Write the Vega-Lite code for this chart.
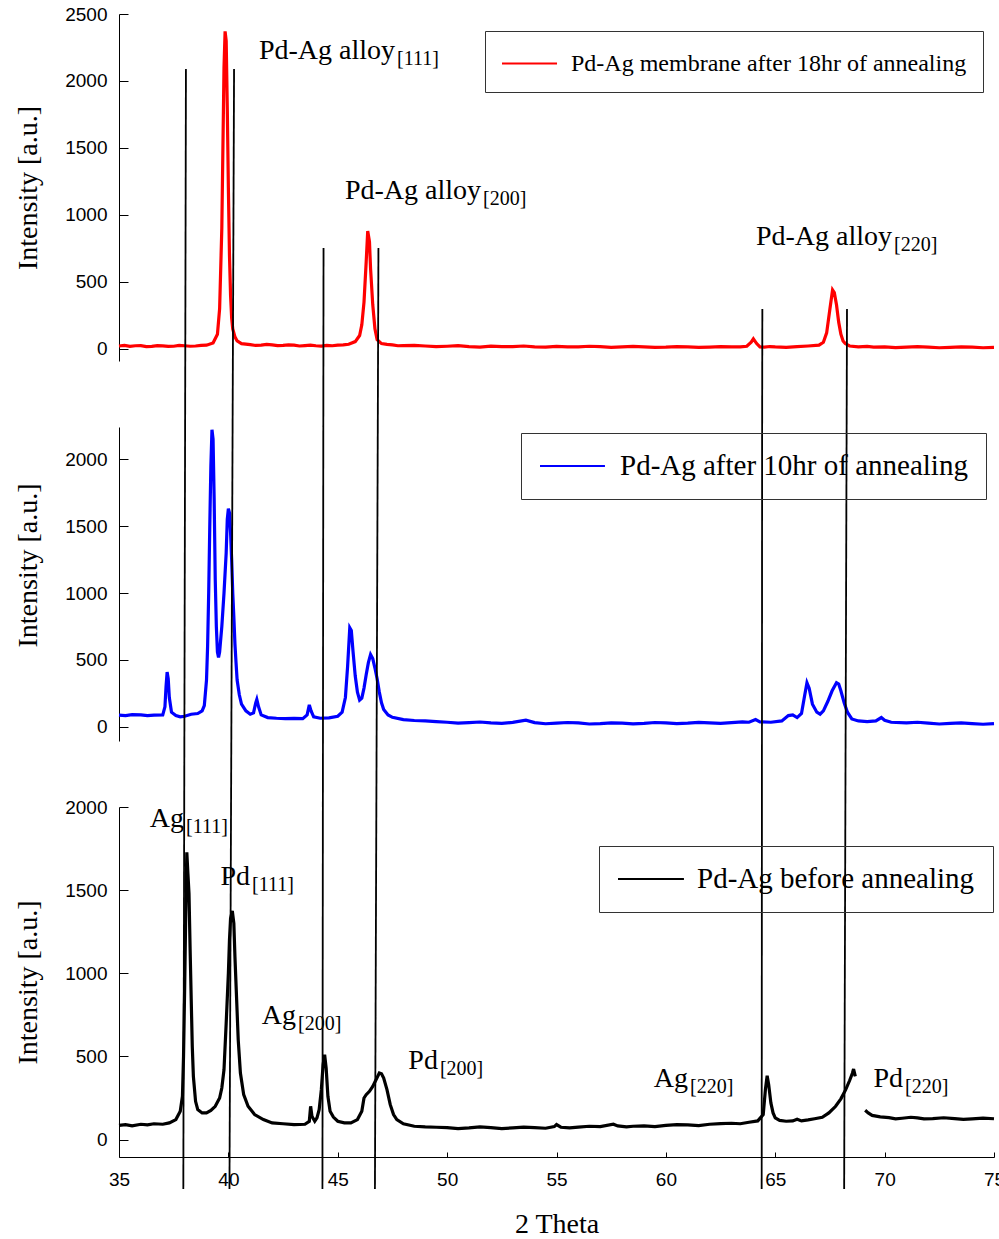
{
  "$schema": "https://vega.github.io/schema/vega-lite/v6.json",
  "background": "white",
  "padding": {"left": 14, "top": 5, "right": 0, "bottom": 0},
  "bounds": "flush",
  "spacing": 66,
  "config": {
    "view": {"stroke": null},
    "axis": {"grid": false, "labelFont": "Liberation Sans", "labelFontSize": 19, "labelColor": "#000", "titleFont": "Liberation Serif", "titleFontSize": 28, "titleFontWeight": "normal", "titleColor": "#000", "domainColor": "#000", "tickColor": "#000", "domainWidth": 1, "tickWidth": 1, "format": "d"},
    "legend": {"orient": "none", "symbolStrokeWidth": 2, "labelFont": "Liberation Serif", "labelColor": "#000", "strokeColor": "#333", "labelLimit": 0}
  },
  "datasets": {
    "red": [
      {"x":35,"y":22},{"x":35.25,"y":27},{"x":35.5,"y":20},{"x":35.75,"y":24},{"x":36,"y":25},{"x":36.25,"y":18},{"x":36.5,"y":19},{"x":36.75,"y":25},{"x":37,"y":23},{"x":37.25,"y":19},{"x":37.5,"y":20},{"x":37.75,"y":26},{"x":38,"y":24},{"x":38.25,"y":20},{"x":38.5,"y":22},{"x":38.75,"y":27},{"x":39,"y":28},{"x":39.3,"y":45},{"x":39.5,"y":110},{"x":39.6,"y":300},{"x":39.7,"y":900},{"x":39.75,"y":1500},{"x":39.8,"y":2100},{"x":39.85,"y":2370},{"x":39.9,"y":2300},{"x":39.95,"y":1800},{"x":40,"y":1200},{"x":40.05,"y":700},{"x":40.1,"y":400},{"x":40.15,"y":230},{"x":40.2,"y":150},{"x":40.3,"y":90},{"x":40.4,"y":60},{"x":40.6,"y":40},{"x":41,"y":32},{"x":41.25,"y":26},{"x":41.5,"y":29},{"x":41.75,"y":34},{"x":42,"y":30},{"x":42.25,"y":25},{"x":42.5,"y":27},{"x":42.75,"y":31},{"x":43,"y":28},{"x":43.25,"y":22},{"x":43.5,"y":25},{"x":43.75,"y":28},{"x":44,"y":24},{"x":44.25,"y":21},{"x":44.5,"y":26},{"x":44.75,"y":24},{"x":45,"y":28},{"x":45.25,"y":30},{"x":45.5,"y":35},{"x":45.8,"y":55},{"x":46,"y":100},{"x":46.1,"y":180},{"x":46.2,"y":350},{"x":46.3,"y":650},{"x":46.37,"y":880},{"x":46.45,"y":800},{"x":46.5,"y":600},{"x":46.6,"y":330},{"x":46.7,"y":150},{"x":46.8,"y":70},{"x":47,"y":40},{"x":47.25,"y":34},{"x":47.5,"y":30},{"x":47.75,"y":24},{"x":48,"y":25},{"x":48.5,"y":27},{"x":49,"y":22},{"x":49.5,"y":17},{"x":50,"y":20},{"x":50.5,"y":24},{"x":51,"y":18},{"x":51.5,"y":14},{"x":52,"y":21},{"x":52.5,"y":17},{"x":53,"y":17},{"x":53.5,"y":22},{"x":54,"y":16},{"x":54.5,"y":13},{"x":55,"y":19},{"x":55.5,"y":15},{"x":56,"y":15},{"x":56.5,"y":20},{"x":57,"y":17},{"x":57.5,"y":12},{"x":58,"y":15},{"x":58.5,"y":19},{"x":59,"y":16},{"x":59.5,"y":12},{"x":60,"y":14},{"x":60.5,"y":18},{"x":61,"y":16},{"x":61.5,"y":11},{"x":62,"y":14},{"x":62.5,"y":18},{"x":63,"y":15},{"x":63.4,"y":16},{"x":63.7,"y":20},{"x":63.9,"y":50},{"x":64,"y":75},{"x":64.15,"y":40},{"x":64.3,"y":15},{"x":64.5,"y":14},{"x":64.75,"y":18},{"x":65,"y":15},{"x":65.5,"y":12},{"x":66,"y":17},{"x":66.5,"y":22},{"x":67,"y":28},{"x":67.2,"y":50},{"x":67.35,"y":120},{"x":67.5,"y":300},{"x":67.62,"y":440},{"x":67.7,"y":420},{"x":67.8,"y":330},{"x":67.9,"y":200},{"x":68,"y":110},{"x":68.1,"y":60},{"x":68.2,"y":40},{"x":68.4,"y":22},{"x":68.8,"y":16},{"x":69.2,"y":19},{"x":69.5,"y":14},{"x":70,"y":15},{"x":70.5,"y":10},{"x":71,"y":13},{"x":71.5,"y":17},{"x":72,"y":14},{"x":72.5,"y":9},{"x":73,"y":12},{"x":73.5,"y":15},{"x":74,"y":13},{"x":74.5,"y":9},{"x":75,"y":12}
    ],
    "blue": [
      {"x":35,"y":88},{"x":35.3,"y":85},{"x":35.6,"y":92},{"x":36,"y":90},{"x":36.3,"y":84},{"x":36.6,"y":88},{"x":37,"y":90},{"x":37.1,"y":150},{"x":37.15,"y":300},{"x":37.2,"y":410},{"x":37.25,"y":360},{"x":37.3,"y":220},{"x":37.4,"y":110},{"x":37.6,"y":85},{"x":37.8,"y":75},{"x":38,"y":80},{"x":38.3,"y":95},{"x":38.6,"y":100},{"x":38.8,"y":120},{"x":38.9,"y":160},{"x":39,"y":350},{"x":39.05,"y":600},{"x":39.1,"y":1000},{"x":39.15,"y":1500},{"x":39.2,"y":1950},{"x":39.25,"y":2220},{"x":39.3,"y":2150},{"x":39.35,"y":1700},{"x":39.4,"y":1100},{"x":39.45,"y":750},{"x":39.5,"y":560},{"x":39.55,"y":520},{"x":39.6,"y":560},{"x":39.7,"y":750},{"x":39.8,"y":1000},{"x":39.9,"y":1300},{"x":39.95,"y":1550},{"x":40,"y":1630},{"x":40.05,"y":1600},{"x":40.1,"y":1450},{"x":40.15,"y":1250},{"x":40.2,"y":1000},{"x":40.25,"y":820},{"x":40.3,"y":620},{"x":40.35,"y":480},{"x":40.4,"y":350},{"x":40.5,"y":240},{"x":40.6,"y":170},{"x":40.8,"y":120},{"x":41,"y":95},{"x":41.15,"y":105},{"x":41.25,"y":180},{"x":41.3,"y":205},{"x":41.38,"y":150},{"x":41.5,"y":90},{"x":41.8,"y":70},{"x":42.2,"y":65},{"x":42.6,"y":62},{"x":43,"y":64},{"x":43.4,"y":62},{"x":43.6,"y":90},{"x":43.7,"y":165},{"x":43.78,"y":120},{"x":43.9,"y":75},{"x":44.2,"y":65},{"x":44.6,"y":68},{"x":45,"y":80},{"x":45.2,"y":110},{"x":45.35,"y":220},{"x":45.45,"y":450},{"x":45.55,"y":740},{"x":45.62,"y":720},{"x":45.7,"y":560},{"x":45.8,"y":380},{"x":45.9,"y":260},{"x":46,"y":200},{"x":46.1,"y":215},{"x":46.2,"y":290},{"x":46.3,"y":390},{"x":46.4,"y":480},{"x":46.5,"y":540},{"x":46.6,"y":510},{"x":46.7,"y":440},{"x":46.8,"y":360},{"x":46.9,"y":260},{"x":47,"y":180},{"x":47.1,"y":130},{"x":47.3,"y":90},{"x":47.5,"y":72},{"x":48,"y":55},{"x":48.5,"y":48},{"x":49,"y":45},{"x":49.5,"y":40},{"x":50,"y":35},{"x":50.5,"y":28},{"x":51,"y":32},{"x":51.5,"y":37},{"x":52,"y":30},{"x":52.5,"y":26},{"x":53,"y":34},{"x":53.6,"y":50},{"x":54,"y":32},{"x":54.5,"y":24},{"x":55,"y":28},{"x":55.5,"y":33},{"x":56,"y":30},{"x":56.5,"y":22},{"x":57,"y":25},{"x":57.5,"y":31},{"x":58,"y":28},{"x":58.5,"y":23},{"x":59,"y":27},{"x":59.5,"y":33},{"x":60,"y":30},{"x":60.5,"y":25},{"x":61,"y":28},{"x":61.5,"y":34},{"x":62,"y":30},{"x":62.5,"y":27},{"x":63,"y":32},{"x":63.5,"y":38},{"x":63.8,"y":35},{"x":64.1,"y":55},{"x":64.3,"y":38},{"x":64.8,"y":35},{"x":65.3,"y":45},{"x":65.6,"y":85},{"x":65.8,"y":90},{"x":66,"y":70},{"x":66.2,"y":100},{"x":66.35,"y":240},{"x":66.45,"y":330},{"x":66.55,"y":290},{"x":66.7,"y":170},{"x":66.9,"y":110},{"x":67.05,"y":95},{"x":67.2,"y":120},{"x":67.4,"y":190},{"x":67.6,"y":270},{"x":67.8,"y":330},{"x":67.9,"y":320},{"x":68,"y":270},{"x":68.15,"y":180},{"x":68.3,"y":110},{"x":68.5,"y":60},{"x":68.8,"y":45},{"x":69.2,"y":40},{"x":69.6,"y":45},{"x":69.85,"y":70},{"x":70,"y":50},{"x":70.3,"y":35},{"x":71,"y":30},{"x":71.5,"y":35},{"x":72,"y":28},{"x":72.5,"y":22},{"x":73,"y":26},{"x":73.5,"y":30},{"x":74,"y":25},{"x":74.5,"y":20},{"x":75,"y":25}
    ],
    "black": [
      {"s":1,"x":35,"y":85},{"s":1,"x":35.3,"y":90},{"s":1,"x":35.6,"y":82},{"s":1,"x":36,"y":92},{"s":1,"x":36.3,"y":88},{"s":1,"x":36.6,"y":95},{"s":1,"x":37,"y":92},{"s":1,"x":37.3,"y":100},{"s":1,"x":37.6,"y":120},{"s":1,"x":37.8,"y":170},{"s":1,"x":37.9,"y":260},{"s":1,"x":37.95,"y":500},{"s":1,"x":38,"y":900},{"s":1,"x":38.05,"y":1350},{"s":1,"x":38.1,"y":1727},{"s":1,"x":38.15,"y":1600},{"s":1,"x":38.2,"y":1480},{"s":1,"x":38.25,"y":1150},{"s":1,"x":38.3,"y":850},{"s":1,"x":38.35,"y":560},{"s":1,"x":38.4,"y":380},{"s":1,"x":38.5,"y":230},{"s":1,"x":38.6,"y":180},{"s":1,"x":38.8,"y":160},{"s":1,"x":39,"y":160},{"s":1,"x":39.2,"y":175},{"s":1,"x":39.4,"y":200},{"s":1,"x":39.6,"y":250},{"s":1,"x":39.7,"y":310},{"s":1,"x":39.8,"y":420},{"s":1,"x":39.9,"y":700},{"s":1,"x":40,"y":1000},{"s":1,"x":40.05,"y":1200},{"s":1,"x":40.1,"y":1330},{"s":1,"x":40.18,"y":1375},{"s":1,"x":40.25,"y":1300},{"s":1,"x":40.3,"y":1100},{"s":1,"x":40.36,"y":900},{"s":1,"x":40.45,"y":600},{"s":1,"x":40.55,"y":400},{"s":1,"x":40.7,"y":270},{"s":1,"x":40.9,"y":200},{"s":1,"x":41.2,"y":150},{"s":1,"x":41.6,"y":120},{"s":1,"x":42,"y":100},{"s":1,"x":42.5,"y":95},{"s":1,"x":43,"y":90},{"s":1,"x":43.5,"y":92},{"s":1,"x":43.7,"y":110},{"s":1,"x":43.76,"y":200},{"s":1,"x":43.82,"y":140},{"s":1,"x":43.95,"y":110},{"s":1,"x":44.05,"y":130},{"s":1,"x":44.15,"y":180},{"s":1,"x":44.25,"y":300},{"s":1,"x":44.33,"y":450},{"s":1,"x":44.4,"y":510},{"s":1,"x":44.47,"y":430},{"s":1,"x":44.55,"y":260},{"s":1,"x":44.65,"y":170},{"s":1,"x":44.8,"y":135},{"s":1,"x":45,"y":110},{"s":1,"x":45.3,"y":100},{"s":1,"x":45.6,"y":100},{"s":1,"x":45.9,"y":120},{"s":1,"x":46.1,"y":170},{"s":1,"x":46.2,"y":250},{"s":1,"x":46.3,"y":270},{"s":1,"x":46.45,"y":290},{"s":1,"x":46.6,"y":320},{"s":1,"x":46.75,"y":360},{"s":1,"x":46.9,"y":400},{"s":1,"x":47,"y":395},{"s":1,"x":47.1,"y":370},{"s":1,"x":47.25,"y":300},{"s":1,"x":47.4,"y":210},{"s":1,"x":47.55,"y":150},{"s":1,"x":47.7,"y":120},{"s":1,"x":48,"y":95},{"s":1,"x":48.5,"y":80},{"s":1,"x":49,"y":76},{"s":1,"x":49.5,"y":74},{"s":1,"x":50,"y":72},{"s":1,"x":50.5,"y":66},{"s":1,"x":51,"y":70},{"s":1,"x":51.5,"y":76},{"s":1,"x":52,"y":72},{"s":1,"x":52.5,"y":66},{"s":1,"x":53,"y":70},{"s":1,"x":53.5,"y":75},{"s":1,"x":54,"y":72},{"s":1,"x":54.5,"y":68},{"s":1,"x":54.9,"y":78},{"s":1,"x":55,"y":90},{"s":1,"x":55.2,"y":74},{"s":1,"x":55.6,"y":70},{"s":1,"x":56,"y":75},{"s":1,"x":56.5,"y":80},{"s":1,"x":57,"y":78},{"s":1,"x":57.6,"y":92},{"s":1,"x":57.8,"y":82},{"s":1,"x":58.2,"y":76},{"s":1,"x":58.5,"y":80},{"s":1,"x":59,"y":82},{"s":1,"x":59.5,"y":78},{"s":1,"x":60,"y":85},{"s":1,"x":60.5,"y":90},{"s":1,"x":61,"y":88},{"s":1,"x":61.5,"y":84},{"s":1,"x":62,"y":92},{"s":1,"x":62.5,"y":96},{"s":1,"x":63,"y":98},{"s":1,"x":63.4,"y":95},{"s":1,"x":63.8,"y":104},{"s":1,"x":64.2,"y":112},{"s":1,"x":64.45,"y":150},{"s":1,"x":64.55,"y":300},{"s":1,"x":64.63,"y":384},{"s":1,"x":64.7,"y":330},{"s":1,"x":64.8,"y":220},{"s":1,"x":64.9,"y":160},{"s":1,"x":65,"y":130},{"s":1,"x":65.2,"y":115},{"s":1,"x":65.5,"y":110},{"s":1,"x":65.8,"y":112},{"s":1,"x":66,"y":122},{"s":1,"x":66.2,"y":112},{"s":1,"x":66.5,"y":118},{"s":1,"x":66.8,"y":125},{"s":1,"x":67.15,"y":134},{"s":1,"x":67.45,"y":160},{"s":1,"x":67.76,"y":200},{"s":1,"x":68,"y":245},{"s":1,"x":68.22,"y":300},{"s":1,"x":68.4,"y":355},{"s":1,"x":68.53,"y":400},{"s":1,"x":68.58,"y":424},{"s":1,"x":68.66,"y":380},
      {"s":2,"x":69.11,"y":176},{"s":2,"x":69.25,"y":160},{"s":2,"x":69.43,"y":145},{"s":2,"x":69.8,"y":136},{"s":2,"x":70.2,"y":132},{"s":2,"x":70.5,"y":124},{"s":2,"x":70.8,"y":128},{"s":2,"x":71.2,"y":134},{"s":2,"x":71.5,"y":130},{"s":2,"x":71.8,"y":124},{"s":2,"x":72.2,"y":126},{"s":2,"x":72.7,"y":131},{"s":2,"x":73.2,"y":126},{"s":2,"x":73.6,"y":121},{"s":2,"x":74,"y":124},{"s":2,"x":74.5,"y":129},{"s":2,"x":75,"y":125}
    ],
    "guides": [
      {"p":1,"xa":38.06,"xb":38.022,"ya":2090,"yb":-583},
      {"p":1,"xa":40.26,"xb":40.193,"ya":2090,"yb":-583},
      {"p":1,"xa":44.35,"xb":44.34,"ya":753,"yb":-583},
      {"p":1,"xa":46.86,"xb":46.83,"ya":753,"yb":-583},
      {"p":1,"xa":64.41,"xb":64.40,"ya":298,"yb":-583},
      {"p":1,"xa":68.28,"xb":68.263,"ya":298,"yb":-583},
      {"p":2,"xa":38.022,"xb":37.981,"ya":2240,"yb":-598},
      {"p":2,"xa":40.193,"xb":40.122,"ya":2240,"yb":-598},
      {"p":2,"xa":44.34,"xb":44.32,"ya":2240,"yb":-598},
      {"p":2,"xa":46.83,"xb":46.765,"ya":2240,"yb":-598},
      {"p":2,"xa":64.40,"xb":64.39,"ya":2240,"yb":-598},
      {"p":2,"xa":68.263,"xb":68.206,"ya":2240,"yb":-598},
      {"p":3,"xa":37.981,"xb":37.94,"ya":2000,"yb":-297},
      {"p":3,"xa":40.122,"xb":40.05,"ya":2000,"yb":-297},
      {"p":3,"xa":44.32,"xb":44.30,"ya":2000,"yb":-297},
      {"p":3,"xa":46.765,"xb":46.70,"ya":2000,"yb":-297},
      {"p":3,"xa":64.39,"xb":64.38,"ya":2000,"yb":-297},
      {"p":3,"xa":68.206,"xb":68.15,"ya":2000,"yb":-297}
    ],
    "labels": [
      {"p":1,"x":47.62,"y":2164,"m":"Pd-Ag alloy","s":"[111]"},
      {"p":1,"x":51.55,"y":1119,"m":"Pd-Ag alloy","s":"[200]"},
      {"p":1,"x":70.34,"y":776,"m":"Pd-Ag alloy","s":"[220]"},
      {"p":3,"x":37.97,"y":1880,"m":"Ag","s":"[111]"},
      {"p":3,"x":40.99,"y":1531,"m":"Pd","s":"[111]"},
      {"p":3,"x":43.09,"y":695,"m":"Ag","s":"[200]"},
      {"p":3,"x":49.58,"y":424,"m":"Pd","s":"[200]"},
      {"p":3,"x":61.01,"y":316,"m":"Ag","s":"[220]"},
      {"p":3,"x":70.84,"y":316,"m":"Pd","s":"[220]"}
    ]
  },
  "resolve": {"scale": {"color": "independent", "y": "independent"}, "legend": {"color": "independent"}},
  "vconcat": [
    {
      "width": 875, "height": 347,
      "encoding": {
        "x": {"type": "quantitative", "scale": {"domain": [35, 75], "nice": false, "zero": false}, "axis": null},
        "y": {"type": "quantitative", "scale": {"domain": [-90, 2500], "nice": false, "zero": false}, "axis": {"values": [0, 500, 1000, 1500, 2000, 2500], "tickSize": -9, "labelPadding": 21, "title": "Intensity [a.u.]", "titlePadding": 22}}
      },
      "layer": [
        {"data": {"name": "red"}, "mark": {"type": "line", "color": "#ff0000", "strokeWidth": 3.2},
         "encoding": {"x": {"field": "x"}, "y": {"field": "y"},
           "color": {"datum": "Pd-Ag membrane after 18hr of annealing", "scale": {"range": ["#ff0000"]},
             "legend": {"title": null, "legendX": 366, "legendY": 17, "padding": 16, "symbolType": "M-1,0H2.55", "symbolSize": 961, "labelFontSize": 24, "labelOffset": 37}}}},
        {"data": {"name": "guides"}, "transform": [{"filter": "datum.p == 1"}], "mark": {"type": "rule", "color": "#000", "strokeWidth": 1.8, "clip": false},
         "encoding": {"x": {"field": "xa"}, "x2": {"field": "xb"}, "y": {"field": "ya"}, "y2": {"field": "yb"}}},
        {"mark": {"type": "rule", "color": "#666", "strokeWidth": 1.2, "clip": false},
         "encoding": {"x": {"datum": 35}, "x2": {"datum": 75}, "y": {"datum": 2500}}},
        {"mark": {"type": "rule", "color": "#444", "strokeWidth": 1.2, "clip": false},
         "encoding": {"x": {"datum": 75}, "y": {"datum": -90}, "y2": {"datum": 2500}}},
        {"data": {"name": "labels"}, "transform": [{"filter": "datum.p == 1"}], "mark": {"type": "text", "align": "right", "baseline": "alphabetic", "font": "Liberation Serif", "fontSize": 28, "color": "#000"},
         "encoding": {"x": {"field": "x"}, "y": {"field": "y"}, "text": {"field": "m"}}},
        {"data": {"name": "labels"}, "transform": [{"filter": "datum.p == 1"}], "mark": {"type": "text", "align": "left", "baseline": "alphabetic", "dx": 2, "dy": 6, "font": "Liberation Serif", "fontSize": 20, "color": "#000"},
         "encoding": {"x": {"field": "x"}, "y": {"field": "y"}, "text": {"field": "s"}}}
      ]
    },
    {
      "width": 875, "height": 314,
      "encoding": {
        "x": {"type": "quantitative", "scale": {"domain": [35, 75], "nice": false, "zero": false}, "axis": null},
        "y": {"type": "quantitative", "scale": {"domain": [-105, 2240], "nice": false, "zero": false}, "axis": {"values": [0, 500, 1000, 1500, 2000], "tickSize": -9, "labelPadding": 21, "title": "Intensity [a.u.]", "titlePadding": 22, "titleY": 138}}
      },
      "layer": [
        {"data": {"name": "blue"}, "mark": {"type": "line", "color": "#0000ff", "strokeWidth": 3.2},
         "encoding": {"x": {"field": "x"}, "y": {"field": "y"},
           "color": {"datum": "Pd-Ag after 10hr of annealing", "scale": {"range": ["#0000ff"]},
             "legend": {"title": null, "legendX": 402, "legendY": 6, "padding": 18, "symbolType": "M-1,0H3.64", "symbolSize": 784, "labelFontSize": 29, "labelOffset": 51}}}},
        {"data": {"name": "guides"}, "transform": [{"filter": "datum.p == 2"}], "mark": {"type": "rule", "color": "#000", "strokeWidth": 1.8, "clip": false},
         "encoding": {"x": {"field": "xa"}, "x2": {"field": "xb"}, "y": {"field": "ya"}, "y2": {"field": "yb"}}},
        {"mark": {"type": "rule", "color": "#444", "strokeWidth": 1.2, "clip": false},
         "encoding": {"x": {"datum": 75}, "y": {"datum": -105}, "y2": {"datum": 2240}}}
      ]
    },
    {
      "width": 875, "height": 350,
      "encoding": {
        "x": {"type": "quantitative", "scale": {"domain": [35, 75], "nice": false, "zero": false}, "axis": {"values": [35, 40, 45, 50, 55, 60, 65, 70, 75], "tickSize": -5, "labelPadding": 18, "labelFlush": false, "title": "2 Theta", "titlePadding": 21}},
        "y": {"type": "quantitative", "scale": {"domain": [-105, 2000], "nice": false, "zero": false}, "axis": {"values": [0, 500, 1000, 1500, 2000], "tickSize": -9, "labelPadding": 21, "title": "Intensity [a.u.]", "titlePadding": 22}}
      },
      "layer": [
        {"data": {"name": "black"}, "mark": {"type": "line", "color": "#000", "strokeWidth": 3.2},
         "encoding": {"x": {"field": "x"}, "y": {"field": "y"}, "detail": {"field": "s", "type": "nominal"},
           "color": {"datum": "Pd-Ag before annealing", "scale": {"range": ["#000000"]},
             "legend": {"title": null, "legendX": 480, "legendY": 39, "padding": 18, "symbolType": "M-1,0H3.71", "symbolSize": 784, "labelFontSize": 29, "labelOffset": 50}}}},
        {"data": {"name": "guides"}, "transform": [{"filter": "datum.p == 3"}], "mark": {"type": "rule", "color": "#000", "strokeWidth": 1.8, "clip": false},
         "encoding": {"x": {"field": "xa"}, "x2": {"field": "xb"}, "y": {"field": "ya"}, "y2": {"field": "yb"}}},
        {"mark": {"type": "rule", "color": "#444", "strokeWidth": 1.2, "clip": false},
         "encoding": {"x": {"datum": 75}, "y": {"datum": -105}, "y2": {"datum": 2000}}},
        {"data": {"name": "labels"}, "transform": [{"filter": "datum.p == 3"}], "mark": {"type": "text", "align": "right", "baseline": "alphabetic", "font": "Liberation Serif", "fontSize": 28, "color": "#000"},
         "encoding": {"x": {"field": "x"}, "y": {"field": "y"}, "text": {"field": "m"}}},
        {"data": {"name": "labels"}, "transform": [{"filter": "datum.p == 3"}], "mark": {"type": "text", "align": "left", "baseline": "alphabetic", "dx": 2, "dy": 6, "font": "Liberation Serif", "fontSize": 20, "color": "#000"},
         "encoding": {"x": {"field": "x"}, "y": {"field": "y"}, "text": {"field": "s"}}}
      ]
    }
  ]
}
